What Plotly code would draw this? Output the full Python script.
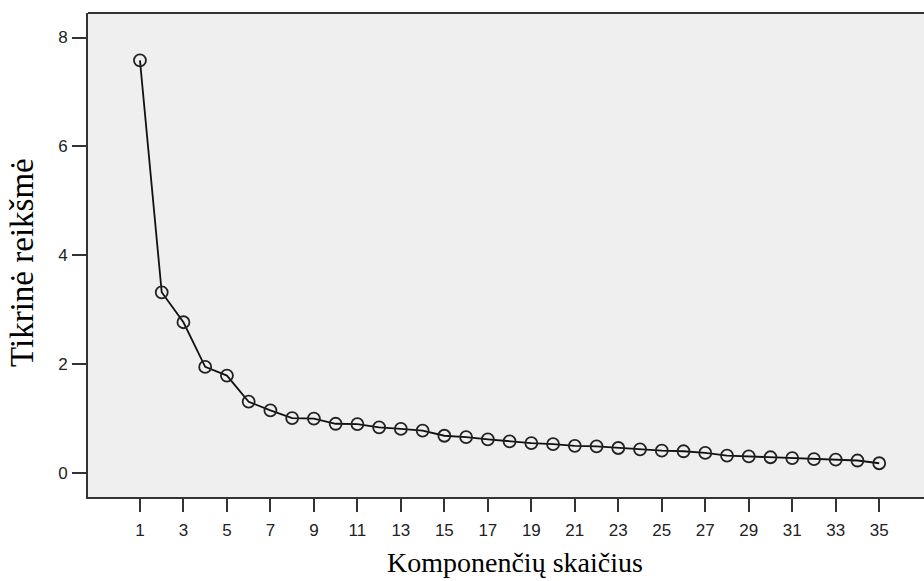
import plotly.graph_objects as go

components = list(range(1, 36))
eigenvalues = [7.58, 3.32, 2.77, 1.95, 1.79, 1.31, 1.15, 1.01, 1.00, 0.905,
               0.90, 0.84, 0.81, 0.78, 0.685, 0.66, 0.62, 0.58, 0.55, 0.53,
               0.50, 0.49, 0.46, 0.435, 0.41, 0.40, 0.37, 0.32, 0.305, 0.29,
               0.275, 0.255, 0.245, 0.23, 0.18]
x_ticks = list(range(1, 36, 2))
y_ticks = [0, 2, 4, 6, 8]
x_title = "Komponenčių skaičius"
y_title = "Tikrinė reikšmė"

fig = go.Figure()
fig.add_trace(go.Scatter(
    x=components, y=eigenvalues, mode="lines+markers",
    line=dict(color="#111111", width=1.8),
    marker=dict(symbol="circle-open", size=12, color="#222222",
                line=dict(width=1.8, color="#222222")),
    showlegend=False, hoverinfo="x+y",
))

fig.update_layout(
    width=924, height=581,
    margin=dict(l=88, r=0, t=13, b=84),
    paper_bgcolor="white", plot_bgcolor="#efefef",
    font=dict(family="Liberation Sans, Arial", size=17, color="#222222"),
    xaxis=dict(range=[-1.39, 37.06], tickvals=x_ticks, ticks="outside",
               ticklen=13, tickwidth=2, tickcolor="#333333",
               showline=True, linewidth=2, linecolor="#333333",
               showgrid=False, zeroline=False, ticklabelstandoff=4),
    yaxis=dict(range=[-0.44, 8.45], tickvals=y_ticks, ticks="outside",
               ticklen=14, tickwidth=2, tickcolor="#333333",
               showline=True, linewidth=2, linecolor="#333333",
               showgrid=False, zeroline=False, ticklabelstandoff=1),
    shapes=[dict(type="line", xref="paper", yref="paper", x0=0, x1=1, y0=1, y1=1,
                 line=dict(color="#333333", width=2))],
    annotations=[
        dict(text=x_title, xref="paper", yref="paper", x=(515 - 88) / 836, y=-0.136,
             xanchor="center", yanchor="middle", showarrow=False,
             font=dict(family="Liberation Serif, Times New Roman", size=28, color="black")),
        dict(text=y_title, xref="paper", yref="paper", x=-0.079, y=0.4855,
             xanchor="center", yanchor="middle", showarrow=False, textangle=-90,
             font=dict(family="Liberation Serif, Times New Roman", size=33, color="black")),
    ],
)

fig.write_html("out.html")
